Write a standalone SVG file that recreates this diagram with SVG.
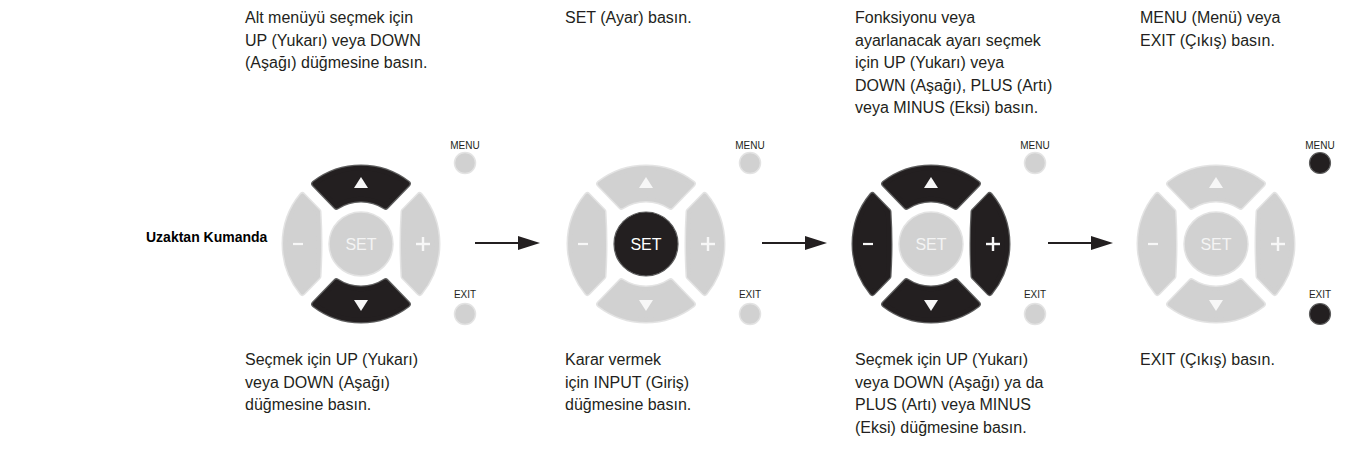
<svg xmlns="http://www.w3.org/2000/svg" xmlns:xlink="http://www.w3.org/1999/xlink" width="1349" height="461" viewBox="0 0 1349 461">
<style>
.t{font-family:"Liberation Sans",Arial,sans-serif;font-size:16px;fill:#231f20}
.tb{font-family:"Liberation Sans",Arial,sans-serif;font-size:14px;font-weight:bold;fill:#000}
.sm{font-family:"Liberation Sans",Arial,sans-serif;font-size:10px;fill:#231f20;text-anchor:middle}
.setl{font-family:"Liberation Sans",Arial,sans-serif;font-size:16px;fill:#f4f4f4;text-anchor:middle}
.setd{font-family:"Liberation Sans",Arial,sans-serif;font-size:16px;fill:#ffffff;text-anchor:middle}
.lo{fill:#e3e3e3;stroke:#e3e3e3;stroke-width:7;stroke-linejoin:round}
.li{fill:#d1d1d1;stroke:#d1d1d1;stroke-width:4;stroke-linejoin:round}
.do{fill:#5e5e5e;stroke:#5e5e5e;stroke-width:7;stroke-linejoin:round}
.di{fill:#231f20;stroke:#231f20;stroke-width:4.5;stroke-linejoin:round}
.sym{fill:#f7f7f7}
.cl{fill:#d1d1d1;stroke:#e3e3e3;stroke-width:1.5}
.cd{fill:#231f20;stroke:#5e5e5e;stroke-width:1.2}
.conn line{stroke:#231f20;stroke-width:2}
</style>
<defs>
<path id="bu" d="M -46.35 -60.23 A 76 76 0 0 1 46.35 -60.23 L 24.59 -37.7 A 45 45 0 0 0 -24.59 -37.7 Z"/>
<path id="bd" d="M -46.35 60.23 A 76 76 0 0 0 46.35 60.23 L 24.59 37.7 A 45 45 0 0 1 -24.59 37.7 Z"/>
<path id="bl" d="M -58.57 -48.42 A 76 76 0 0 0 -58.57 48.42 L -43 32.29 Q -41 0 -43 -32.29 Z"/>
<path id="br" d="M 58.57 -48.42 A 76 76 0 0 1 58.57 48.42 L 43 32.29 Q 41 0 43 -32.29 Z"/>
<g id="syms">
<polygon points="0,-67 -7,-56 7,-56"/>
<polygon points="0,67 -7,56 7,56"/>
<rect x="-68" y="-1.1" width="10" height="2.2"/>
<rect x="55" y="-1.2" width="14" height="2.4"/>
<rect x="60.8" y="-7" width="2.4" height="14"/>
</g>
<marker id="ah" markerWidth="22" markerHeight="14" refX="10" refY="7" orient="auto" markerUnits="userSpaceOnUse">
<path d="M0,0 L22,7 L0,14 Z" fill="#231f20"/>
</marker>
</defs>

<g id="title"><text class="tb" x="146" y="242">Uzaktan Kumanda</text></g>

<g id="step1">
<text class="t" x="245" y="23">Alt menüyü seçmek için</text>
<text class="t" x="245" y="45.5">UP (Yukarı) veya DOWN</text>
<text class="t" x="245" y="68">(Aşağı) düğmesine basın.</text>
<g transform="translate(361,244)">
<use xlink:href="#bu" class="do"/><use xlink:href="#bu" class="di"/>
<use xlink:href="#bd" class="do"/><use xlink:href="#bd" class="di"/>
<use xlink:href="#bl" class="lo"/><use xlink:href="#bl" class="li"/>
<use xlink:href="#br" class="lo"/><use xlink:href="#br" class="li"/>
<circle r="32" class="cl"/>
<text class="setl" y="6">SET</text>
<use xlink:href="#syms" class="sym"/>
<text class="sm" x="104" y="-95">MENU</text>
<circle cx="104" cy="-81" r="10.5" class="cl"/>
<text class="sm" x="104" y="54">EXIT</text>
<circle cx="104" cy="70" r="10.5" class="cl"/>
</g>
<text class="t" x="245" y="365">Seçmek için UP (Yukarı)</text>
<text class="t" x="245" y="387.5">veya DOWN (Aşağı)</text>
<text class="t" x="245" y="410">düğmesine basın.</text>
</g>

<g id="step2">
<text class="t" x="565" y="23">SET (Ayar) basın.</text>
<g transform="translate(646,244)">
<use xlink:href="#bu" class="lo"/><use xlink:href="#bu" class="li"/>
<use xlink:href="#bd" class="lo"/><use xlink:href="#bd" class="li"/>
<use xlink:href="#bl" class="lo"/><use xlink:href="#bl" class="li"/>
<use xlink:href="#br" class="lo"/><use xlink:href="#br" class="li"/>
<circle r="32" class="cd"/>
<text class="setd" y="6">SET</text>
<use xlink:href="#syms" class="sym"/>
<text class="sm" x="104" y="-95">MENU</text>
<circle cx="104" cy="-81" r="10.5" class="cl"/>
<text class="sm" x="104" y="54">EXIT</text>
<circle cx="104" cy="70" r="10.5" class="cl"/>
</g>
<text class="t" x="565" y="365">Karar vermek</text>
<text class="t" x="565" y="387.5">için INPUT (Giriş)</text>
<text class="t" x="565" y="410">düğmesine basın.</text>
</g>

<g id="step3">
<text class="t" x="855" y="23">Fonksiyonu veya</text>
<text class="t" x="855" y="45.5">ayarlanacak ayarı seçmek</text>
<text class="t" x="855" y="68">için UP (Yukarı) veya</text>
<text class="t" x="855" y="90.5">DOWN (Aşağı), PLUS (Artı)</text>
<text class="t" x="855" y="113">veya MINUS (Eksi) basın.</text>
<g transform="translate(931,244)">
<use xlink:href="#bu" class="do"/><use xlink:href="#bu" class="di"/>
<use xlink:href="#bd" class="do"/><use xlink:href="#bd" class="di"/>
<use xlink:href="#bl" class="do"/><use xlink:href="#bl" class="di"/>
<use xlink:href="#br" class="do"/><use xlink:href="#br" class="di"/>
<circle r="32" class="cl"/>
<text class="setl" y="6">SET</text>
<use xlink:href="#syms" class="sym"/>
<text class="sm" x="104" y="-95">MENU</text>
<circle cx="104" cy="-81" r="10.5" class="cl"/>
<text class="sm" x="104" y="54">EXIT</text>
<circle cx="104" cy="70" r="10.5" class="cl"/>
</g>
<text class="t" x="855" y="365">Seçmek için UP (Yukarı)</text>
<text class="t" x="855" y="387.5">veya DOWN (Aşağı) ya da</text>
<text class="t" x="855" y="410">PLUS (Artı) veya MINUS</text>
<text class="t" x="855" y="432.5">(Eksi) düğmesine basın.</text>
</g>

<g id="step4">
<text class="t" x="1140" y="23">MENU (Menü) veya</text>
<text class="t" x="1140" y="45.5">EXIT (Çıkış) basın.</text>
<g transform="translate(1216,244)">
<use xlink:href="#bu" class="lo"/><use xlink:href="#bu" class="li"/>
<use xlink:href="#bd" class="lo"/><use xlink:href="#bd" class="li"/>
<use xlink:href="#bl" class="lo"/><use xlink:href="#bl" class="li"/>
<use xlink:href="#br" class="lo"/><use xlink:href="#br" class="li"/>
<circle r="32" class="cl"/>
<text class="setl" y="6">SET</text>
<use xlink:href="#syms" class="sym"/>
<text class="sm" x="104" y="-95">MENU</text>
<circle cx="104" cy="-81" r="10.5" class="cd"/>
<text class="sm" x="104" y="54">EXIT</text>
<circle cx="104" cy="70" r="10.5" class="cd"/>
</g>
<text class="t" x="1140" y="365">EXIT (Çıkış) basın.</text>
</g>

<g id="connectors" class="conn">
<line x1="475" y1="243" x2="528" y2="243" marker-end="url(#ah)"/>
<line x1="762" y1="243" x2="815" y2="243" marker-end="url(#ah)"/>
<line x1="1048" y1="243" x2="1101" y2="243" marker-end="url(#ah)"/>
</g>
</svg>
